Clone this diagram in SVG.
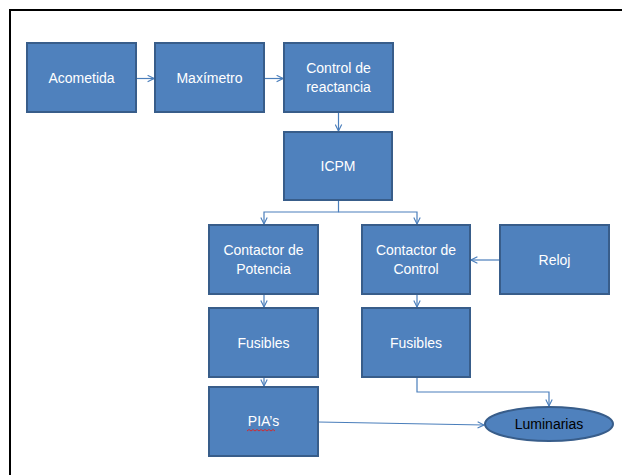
<svg xmlns="http://www.w3.org/2000/svg" width="622" height="475" viewBox="0 0 622 475">
<style>
.box{fill:#4F81BD;stroke:#385D8A;stroke-width:2}
.t{font-family:"Liberation Sans",Arial,sans-serif;font-size:14px;fill:#FFFFFF;text-anchor:middle}
.td{font-family:"Liberation Sans",Arial,sans-serif;font-size:14px;fill:#000000;text-anchor:middle}
.c{fill:none;stroke:#4A7EBB;stroke-width:1.2;marker-end:url(#arr)}
</style>
<defs>
<marker id="arr" viewBox="0 0 10 10" refX="9" refY="5" markerWidth="8" markerHeight="8" markerUnits="userSpaceOnUse" orient="auto">
<path d="M1,1 L9,5 L1,9" fill="none" stroke="#4A7EBB" stroke-width="1.4"/>
</marker>
</defs>
<rect width="622" height="475" fill="#FFFFFF"/>
<path d="M10,475 L10,10 L622,10" fill="none" stroke="#000000" stroke-width="2"/>
<g id="connectors">
<path class="c" d="M136,78.5 L154,78.5"/>
<path class="c" d="M264,78.5 L283,78.5"/>
<path class="c" d="M338.5,112 L338.5,131"/>
<path class="c" d="M338.5,200 L338.5,212 L264,212 L264,224"/>
<path class="c" d="M338.5,212 L417,212 L417,224"/>
<path class="c" d="M264,294 L264,307"/>
<path class="c" d="M417,294 L417,307"/>
<path class="c" d="M264,377 L264,386"/>
<path class="c" d="M500,260 L471,260"/>
<path class="c" d="M417,377 L417,392 L549,392 L549,406"/>
<path class="c" d="M318,422 L484,425"/>
</g>
<g id="acometida"><rect class="box" x="27" y="43" width="109" height="69"/><text class="t" x="81.5" y="82.5">Acometida</text></g>
<g id="maximetro"><rect class="box" x="155" y="43" width="109" height="69"/><text class="t" x="209.5" y="82.5">Maxímetro</text></g>
<g id="control-reactancia"><rect class="box" x="284" y="43" width="109" height="69"/><text class="t" x="338.5" y="73">Control de</text><text class="t" x="338.5" y="92">reactancia</text></g>
<g id="icpm"><rect class="box" x="284" y="132" width="108" height="68"/><text class="t" x="338" y="171">ICPM</text></g>
<g id="contactor-potencia"><rect class="box" x="209" y="225" width="109" height="69"/><text class="t" x="263.5" y="255">Contactor de</text><text class="t" x="263.5" y="274">Potencia</text></g>
<g id="contactor-control"><rect class="box" x="362" y="225" width="108" height="69"/><text class="t" x="416" y="255">Contactor de</text><text class="t" x="416" y="274">Control</text></g>
<g id="reloj"><rect class="box" x="500" y="225" width="109" height="69"/><text class="t" x="554.5" y="264.5">Reloj</text></g>
<g id="fusibles-1"><rect class="box" x="209" y="308" width="109" height="69"/><text class="t" x="263.5" y="347.5">Fusibles</text></g>
<g id="fusibles-2"><rect class="box" x="362" y="308" width="108" height="69"/><text class="t" x="416" y="347.5">Fusibles</text></g>
<g id="pias"><rect class="box" x="209" y="387" width="109" height="69"/><text class="t" x="263.5" y="426">PIA’s</text><path d="M247,431 l2,-1.5 l2,1.5 l2,-1.5 l2,1.5 l2,-1.5 l2,1.5 l2,-1.5 l2,1.5 l2,-1.5 l2,1.5 l2,-1.5 l2,1.5 l2,-1.5 l2,1.5" fill="none" stroke="#E02020" stroke-width="0.9"/></g>
<g id="luminarias"><ellipse class="box" cx="549" cy="424" rx="64" ry="17"/><text class="td" x="549" y="429">Luminarias</text></g>
</svg>
